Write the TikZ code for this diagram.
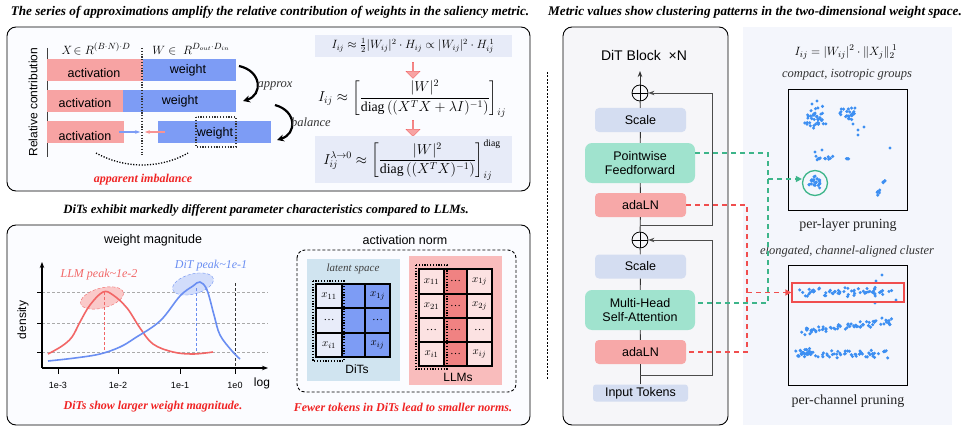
\documentclass[tikz,border=0pt]{standalone}
\usepackage{amsmath}
\usepackage{fontspec}
\setmainfont{Liberation Serif}
\setsansfont{Liberation Sans}
\usetikzlibrary{arrows.meta,shapes.geometric,shapes.arrows,calc}
\definecolor{actc}{HTML}{F7A3A3}
\definecolor{wc}{HTML}{7D9CF5}
\definecolor{fboxc}{HTML}{E7EBF8}
\definecolor{redt}{HTML}{F02424}
\definecolor{llmc}{HTML}{F26666}
\definecolor{ditc}{HTML}{6A8EF2}
\definecolor{ditbg}{HTML}{D0E4F0}
\definecolor{llmbg}{HTML}{F9BCBC}
\definecolor{llmcell}{HTML}{FCE2E2}
\definecolor{llmmid}{HTML}{F08282}
\definecolor{ditcell}{HTML}{E8ECF9}
\definecolor{scalec}{HTML}{D4DDF1}
\definecolor{greenc}{HTML}{A0E3CE}
\definecolor{adac}{HTML}{F7A8A8}
\definecolor{gdash}{HTML}{3DB58A}
\definecolor{rdash}{HTML}{F04E4E}
\definecolor{rpbg}{HTML}{F4F6FC}
\definecolor{dotc}{HTML}{3D8FF2}
\definecolor{panelbg}{HTML}{FBFCFF}
\definecolor{blockbg}{HTML}{F6F6F9}
\definecolor{gridg}{HTML}{AAAAAA}
\newcommand\dotblob[5]{%
  \foreach \k in {1,...,#1}{%
    \pgfmathsetmacro\ddx{#4*(rand+rand)/2}%
    \pgfmathsetmacro\ddy{#5*(rand+rand)/2}%
    \fill[dotc] (#2+\ddx,#3+\ddy) circle (1.7pt);}}
\newcommand\dotband[6]{%
  \foreach \k in {1,...,#1}{%
    \pgfmathsetmacro\ddx{#4*rand}%
    \pgfmathsetmacro\ddy{#5*(rand+rand)/2+#6*\ddx}%
    \fill[dotc] (#2+\ddx,#3+\ddy) circle (1.7pt);}}
\tikzset{
  titlet/.style={font=\fontsize{13.2}{15}\selectfont\bfseries\itshape},
  redlab/.style={text=redt,font=\fontsize{12}{14}\selectfont\bfseries\itshape},
  sanst/.style={font=\sffamily\fontsize{12.5}{14}\selectfont},
  barlab/.style={font=\sffamily\fontsize{12.5}{14}\selectfont},
  panel/.style={draw,line width=0.9pt,rounded corners=9pt,fill=panelbg},
  blockbox/.style={rounded corners=4pt,minimum width=91pt,minimum height=24pt,inner sep=0pt,font=\sffamily\fontsize{12.5}{14}\selectfont,align=center},
  scalebox/.style={blockbox,fill=scalec},
  adabox/.style={blockbox,fill=adac},
  greenbox/.style={blockbox,fill=greenc,minimum width=110pt,minimum height=40pt,rounded corners=7pt},
  plusnode/.style={circle,draw,line width=0.8pt,minimum size=16pt,inner sep=0pt,
    path picture={\draw[line width=0.8pt] (path picture bounding box.north) -- (path picture bounding box.south) (path picture bounding box.west) -- (path picture bounding box.east);}},
  mainline/.style={line width=0.9pt,draw=black!80},
  resline/.style={line width=0.9pt,draw=black!70},
  gd/.style={draw=gdash,line width=1.4pt,dash pattern=on 5pt off 4pt},
  rd/.style={draw=rdash,line width=1.4pt,dash pattern=on 5pt off 4pt},
  cellt/.style={font=\fontsize{11}{13}\selectfont},
  fdown/.style={single arrow,draw=llmc,fill=actc,rotate=-90,minimum height=16pt,minimum width=14pt,single arrow head extend=2pt,inner sep=0pt},
}
\begin{document}
\begin{tikzpicture}[x=1pt,y=-1pt]
\useasboundingbox (0,0) rectangle (968,433);
\pgfmathsetseed{11}
% ---------- titles
\node[titlet] (t1) at (270,12) {The series of approximations amplify the relative contribution of weights in the saliency metric.};
\node[titlet] (t2) at (755,12) {Metric values show clustering patterns in the two-dimensional weight space.};
\node[titlet,font=\fontsize{12.7}{15}\selectfont\bfseries\itshape] (t3) at (266,210) {DiTs exhibit markedly different parameter characteristics compared to LLMs.};
% ---------- top-left panel
\draw[panel] (7,27) rectangle (530,191);
\node[sanst,font=\sffamily\fontsize{12}{14}\selectfont,rotate=90] (rc) at (33,102) {Relative contribution};
\draw[line width=0.9pt,black!75] (47,48) -- (47,157);
\node[font=\fontsize{13}{15}\selectfont] (xl) at (96,49) {$X\!\in R^{(B\cdot N)\cdot D}$};
\node[font=\fontsize{13}{15}\selectfont] (wl) at (191,49) {$W\in\;R^{D_{out}\cdot D_{in}}$};
\fill[actc] (47,59) rectangle (143,81);
\fill[wc] (143,59) rectangle (236,81);
\fill[actc] (47,90) rectangle (123,112);
\fill[wc] (123,90) rectangle (236,112);
\fill[actc] (47,121) rectangle (124,143);
\fill[wc] (158,121) rectangle (271,143);
\node[barlab] (a1) at (94,73) {activation};
\node[barlab] (w1) at (188,70) {weight};
\node[barlab] (a2) at (85,103) {activation};
\node[barlab] (w2) at (180,101) {weight};
\node[barlab] (a3) at (85,136) {activation};
\node[barlab] (w3) at (215,133) {weight};
\draw[line width=1.1pt,dash pattern=on 1.2pt off 1.6pt,black!80] (196,117) rectangle (236,147);
\draw[line width=1.1pt,dash pattern=on 1.2pt off 1.6pt,black!80] (142,48) -- (142,155);
\draw[-{Stealth[length=5pt]},wc,line width=1.2pt] (119,132) -- (140,132);
\draw[-{Stealth[length=5pt]},actc!90!red,line width=1.2pt] (165,132) -- (145,132);
\draw[-{Stealth[length=7pt,width=7pt]},line width=2.2pt] (239,66) .. controls (262,71) and (263,95) .. (243,101);
\draw[-{Stealth[length=7pt,width=7pt]},line width=2.2pt] (275,105) .. controls (297,111) and (297,134) .. (277,140);
\node[font=\fontsize{12.5}{14}\selectfont\itshape,text=black!80] (apx) at (275,86) {approx};
\node[font=\fontsize{12.5}{14}\selectfont\itshape,text=black!80] (bal) at (311,122) {balance};
\draw[line width=1.3pt,dash pattern=on 1.2pt off 1.6pt] (96,153) .. controls (125,169) and (160,169) .. (188,153);
\node[redlab] (imb) at (143,180) {apparent imbalance};
% formulas
\fill[fboxc] (315,35) rectangle (512,57);
\node[font=\fontsize{12}{14}\selectfont] (f1) at (413,46) {$I_{ij}\approx\frac{1}{2}|W_{ij}|^{2}\cdot H_{ij}\propto|W_{ij}|^{2}\cdot H_{ij}^{\;1}$};
\node[fdown] (ar1) at (413,70) {};
\node[font=\fontsize{13.8}{16}\selectfont] (f2) at (412,99) {$I_{ij}\approx\left[\dfrac{|W|^{2}}{\mathrm{diag}\left((X^{T}X+\lambda I)^{-1}\right)}\right]_{ij}$};
\node[fdown] (ar2) at (413,128) {};
\fill[fboxc] (315,136) rectangle (512,183);
\node[font=\fontsize{13.8}{16}\selectfont] (f3) at (412,160) {$I_{ij}^{\lambda\to0}\approx\left[\dfrac{|W|^{2}}{\mathrm{diag}\left((X^{T}X)^{-1}\right)}\right]_{ij}^{\mathrm{diag}}$};
% ---------- bottom-left panel
\draw[panel] (7,225) rectangle (530,425);
\node[sanst] (wm) at (153,240) {weight magnitude};
\foreach \yy in {292,323,352}{
  \draw[gridg,line width=0.7pt,dash pattern=on 3pt off 2pt] (42,\yy) -- (268,\yy);
  \draw[line width=0.8pt] (37,\yy) -- (42,\yy);}
\draw[-{Stealth[length=6pt]},line width=1.1pt] (42,368) -- (42,262);
\draw[-{Stealth[length=6pt]},line width=1.1pt] (42,368) -- (268,368);
\foreach \xx/\lab in {58/1e-3,118/1e-2,180/1e-1,235/1e0}{
  \draw[line width=0.8pt] (\xx,368) -- (\xx,374);
  \node[font=\sffamily\fontsize{9}{11}\selectfont] at (\xx,385) {\lab};}
\node[font=\sffamily\fontsize{12}{14}\selectfont] (lg) at (262,383) {log};
\node[font=\sffamily\fontsize{12}{14}\selectfont,rotate=90] (dens) at (23,320) {density};
\draw[line width=1pt,dash pattern=on 3pt off 2pt,black!80] (235,283) -- (235,368);
\node[ellipse,draw=llmc,dash pattern=on 3pt off 2pt,fill=llmc!35,minimum width=44pt,minimum height=20pt,rotate=15,inner sep=0pt] (ell1) at (102,298) {};
\node[ellipse,draw=ditc,dash pattern=on 3pt off 2pt,fill=ditc!30,minimum width=42pt,minimum height=20pt,rotate=15,inner sep=0pt] (ell2) at (193,284) {};
\draw[llmc,line width=0.8pt,dash pattern=on 3pt off 2pt] (104,292) -- (104,352);
\draw[ditc,line width=0.8pt,dash pattern=on 3pt off 2pt] (196,288) -- (196,352);
\draw[llmc,line width=1.6pt] plot[smooth,tension=0.6] coordinates {(48,354) (62,346) (72,337) (80,322) (90,305) (103,292) (113,295) (127,308) (140,328) (153,344) (173,352) (193,354) (213,352)};
\draw[ditc,line width=1.6pt] plot[smooth,tension=0.6] coordinates {(48,361) (75,358) (100,354) (120,347) (135,338) (160,321) (180,296) (193,286) (200,282) (207,290) (214,315) (220,335) (232,351) (240,359)};
\node[font=\fontsize{12}{14}\selectfont\itshape,text=llmc] (llmp) at (99,275) {LLM peak\textasciitilde1e-2};
\node[font=\fontsize{12}{14}\selectfont\itshape,text=ditc] (ditp) at (211,266) {DiT peak\textasciitilde1e-1};
\node[redlab] (r1lab) at (153,407) {DiTs show larger weight magnitude.};
% activation norm
\node[sanst] (an) at (405,240) {activation norm};
\draw[line width=0.9pt,dash pattern=on 3pt off 2pt,rounded corners=8pt] (297,250) rectangle (516,392);
\fill[ditbg] (307,259) rectangle (400,381);
\node[font=\fontsize{11}{13}\selectfont\itshape,text=black!75] (lat) at (353,269) {latent space};
\fill[ditcell] (316,284) rectangle (342,357);
\fill[wc] (342,284) rectangle (390,357);
\draw[line width=1.3pt] (316,284) rectangle (390,357);
\draw[line width=1.3pt] (342,284) -- (342,357) (365,284) -- (365,357) (316,308) -- (390,308) (316,333) -- (390,333);
\node[cellt] at (329,296) {$x_{11}$};
\node[cellt] at (377.5,296) {$x_{1j}$};
\node[cellt] at (329,320.5) {\dots};
\node[cellt] at (377.5,320.5) {\dots};
\node[cellt] at (329,345) {$x_{i1}$};
\node[cellt] at (377.5,345) {$x_{ij}$};
\draw[line width=1.1pt,dash pattern=on 1.2pt off 1.6pt] (313,281) rectangle (344,361);
\node[font=\sffamily\fontsize{12}{14}\selectfont] (dits) at (357,369) {DiTs};
\fill[llmbg] (409,256) rectangle (502,385);
\fill[llmcell] (419,269) rectangle (492,366);
\fill[llmmid] (444,269) rectangle (467,366);
\draw[line width=1.3pt] (419,269) rectangle (492,366);
\draw[line width=1.3pt] (444,269) -- (444,366) (467,269) -- (467,366) (419,294) -- (492,294) (419,318) -- (492,318) (419,342) -- (492,342);
\node[cellt] at (431.5,281.5) {$x_{11}$};
\node[cellt] at (455.5,281.5) {\dots};
\node[cellt] at (479.5,281.5) {$x_{1j}$};
\node[cellt] at (431.5,306) {$x_{21}$};
\node[cellt] at (455.5,306) {\dots};
\node[cellt] at (479.5,306) {$x_{2j}$};
\node[cellt] at (431.5,330) {\dots};
\node[cellt] at (455.5,330) {\dots};
\node[cellt] at (479.5,330) {\dots};
\node[cellt] at (431.5,354) {$x_{i1}$};
\node[cellt] at (455.5,354) {\dots};
\node[cellt] at (479.5,354) {$x_{ij}$};
\draw[line width=1.1pt,dash pattern=on 1.2pt off 1.6pt] (416,265) rectangle (447,369);
\node[font=\sffamily\fontsize{12}{14}\selectfont] (llms) at (458,377) {LLMs};
\node[redlab] (r2lab) at (403,407) {Fewer tokens in DiTs lead to smaller norms.};
% separator
\draw[line width=0.8pt,dash pattern=on 2pt off 1.5pt] (547,72) -- (547,380);
% ---------- right background
\fill[rpbg] (743,27) rectangle (952,425);
% ---------- DiT block panel
\draw[line width=0.9pt,rounded corners=9pt,fill=blockbg] (563,27) rectangle (728,425);
\node[font=\sffamily\fontsize{14}{16}\selectfont] (dbt) at (644,55) {DiT Block\ \ ×N};
\node[plusnode] (p1) at (640,93) {};
\node[scalebox] (sc1) at (640.5,120) {Scale};
\node[greenbox] (pff) at (640,163) {Pointwise\\Feedforward};
\node[adabox] (ada1) at (640.5,205) {adaLN};
\node[plusnode] (p2) at (640,240) {};
\node[scalebox] (sc2) at (640.5,266.5) {Scale};
\node[greenbox] (mhsa) at (640,310) {Multi-Head\\Self-Attention};
\node[adabox] (ada2) at (640.5,352) {adaLN};
\node[blockbox,fill=scalec,minimum width=95pt,minimum height=17pt,rounded corners=3pt] (inp) at (640.5,393) {Input Tokens};
\coordinate (top) at (640,71);
\coordinate (rs1) at (640,225);
\coordinate (rs2) at (640,375);
\draw[mainline] (inp) -- (ada2);
\draw[mainline] (ada2) -- (mhsa);
\draw[mainline] (mhsa) -- (sc2);
\draw[mainline] (sc2) -- (p2);
\draw[mainline] (p2) -- (ada1);
\draw[mainline] (ada1) -- (pff);
\draw[mainline] (pff) -- (sc1);
\draw[mainline] (sc1) -- (p1);
\draw[mainline,-{Stealth[length=6pt]}] (p1) -- (top);
\draw[resline,-{Stealth[length=6pt]}] (rs1) -- (712,225) -- (712,93) -- (p1);
\draw[resline,-{Stealth[length=6pt]}] (rs2) -- (712,375) -- (712,240) -- (p2);
% ---------- right panel contents
\node[font=\fontsize{13}{15}\selectfont] (rf) at (846,52) {$I_{ij}=|W_{ij}|^{2}\cdot\|X_{j}\|_{2}^{\;1}$};
\node[font=\fontsize{12.5}{14}\selectfont\itshape,text=black!80] (cig) at (847,75) {compact, isotropic groups};
\draw[line width=1pt,fill=rpbg] (788,90) rectangle (907,210);
\node[font=\fontsize{14}{16}\selectfont,text=black!85] (plp) at (848,225) {per-layer pruning};
\node[font=\fontsize{12.5}{14}\selectfont\itshape,text=black!80] (eca) at (847,251) {elongated, channel-aligned cluster};
\draw[line width=1pt,fill=rpbg] (788,265) rectangle (907,385);
\node[font=\fontsize{14}{16}\selectfont,text=black!85] (pcp) at (848,401) {per-channel pruning};
% scatter 1
\dotblob{38}{815}{117}{14}{13}
\dotblob{24}{848}{113}{10}{9}
\foreach \px/\py in {853/124,858/130,864/127,858/135,812/104,817/101}{\fill[dotc] (\px,\py) circle (1.7pt);}
\dotband{14}{832}{158}{17}{3}{0}
\foreach \px/\py in {815/152,822/150,890/148}{\fill[dotc] (\px,\py) circle (1.7pt);}
\dotblob{24}{815}{183}{8}{8}
\dotband{10}{881}{187}{4}{3}{-2}
\node[circle,draw=gdash,line width=1.3pt,minimum size=25pt,inner sep=0pt] (clD) at (815,183) {};
% scatter 2
\dotband{62}{845}{292}{47}{5}{0}
\foreach \px/\py in {882/275,876/281,875/303,896/300}{\fill[dotc] (\px,\py) circle (1.7pt);}
\dotband{70}{846}{327}{46}{5}{-0.12}
\dotband{62}{843}{354}{48}{5}{0}
\dotblob{16}{806}{352}{8}{5}
\node[draw=rdash,line width=1.3pt,minimum width=112pt,minimum height=19pt,inner sep=0pt] (rr) at (848,292.5) {};
% ---------- dashed connectors
\coordinate (gv1) at (768,153);
\coordinate (gv2) at (768,303);
\coordinate (gb) at (768,179);
\coordinate (rv1) at (747,205);
\coordinate (rv2) at (747,352);
\coordinate (rb) at (747,292.5);
\draw[gd] ($(pff.east)+(0,-10)$) -- (gv1) -- (gv2) -- ($(mhsa.east)+(0,-7)$);
\draw[gd,-{Triangle[length=6pt,width=6pt]}] (gb) -- (gb -| clD.west);
\draw[rd] (ada1.east) -- (rv1) -- (rv2) -- (ada2.east);
\draw[rd,-{Triangle[length=6pt,width=6pt]}] (rb) -- (rr.west);
\end{tikzpicture}
\end{document}
